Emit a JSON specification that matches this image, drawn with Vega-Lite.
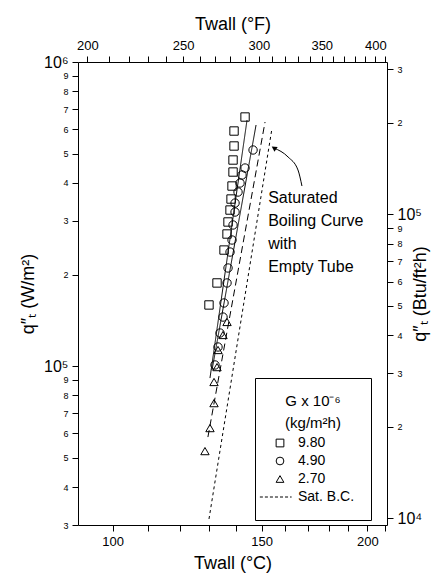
{
  "$schema": "https://vega.github.io/schema/vega-lite/v6.json",
  "width": 309,
  "height": 463,
  "autosize": {"type": "none"},
  "padding": {"left": 78, "top": 62, "right": 61, "bottom": 59},
  "background": "white",
  "config": {
    "font": "Liberation Sans",
    "view": {"stroke": null},
    "axis": {
      "grid": false,
      "domainColor": "black",
      "tickColor": "black",
      "labelColor": "black",
      "titleColor": "black",
      "titleFontWeight": "normal",
      "labelFont": "Liberation Sans",
      "titleFont": "Liberation Sans",
      "labelOverlap": false,
      "labelFlush": false,
      "tickSize": 6
    }
  },
  "datasets": {
    "pts": [
      {"G": "9.80", "T": 143.38, "q": 659200},
      {"G": "9.80", "T": 139.15, "q": 592900},
      {"G": "9.80", "T": 139.15, "q": 529300},
      {"G": "9.80", "T": 138.77, "q": 476000},
      {"G": "9.80", "T": 138.77, "q": 434600},
      {"G": "9.80", "T": 138.39, "q": 390900},
      {"G": "9.80", "T": 138.02, "q": 354200},
      {"G": "9.80", "T": 137.64, "q": 325900},
      {"G": "9.80", "T": 136.89, "q": 297700},
      {"G": "9.80", "T": 136.52, "q": 271800},
      {"G": "9.80", "T": 135.41, "q": 240700},
      {"G": "9.80", "T": 132.85, "q": 187600},
      {"G": "9.80", "T": 129.98, "q": 158800},
      {"G": "4.90", "T": 146.54, "q": 513500},
      {"G": "4.90", "T": 143.38, "q": 448000},
      {"G": "4.90", "T": 142.21, "q": 424900},
      {"G": "4.90", "T": 141.44, "q": 399900},
      {"G": "4.90", "T": 140.67, "q": 373500},
      {"G": "4.90", "T": 139.53, "q": 343600},
      {"G": "4.90", "T": 139.53, "q": 321000},
      {"G": "4.90", "T": 138.77, "q": 291000},
      {"G": "4.90", "T": 138.39, "q": 259700},
      {"G": "4.90", "T": 137.64, "q": 237100},
      {"G": "4.90", "T": 136.89, "q": 210100},
      {"G": "4.90", "T": 136.52, "q": 187600},
      {"G": "4.90", "T": 135.41, "q": 161200},
      {"G": "4.90", "T": 135.04, "q": 144900},
      {"G": "4.90", "T": 133.94, "q": 128400},
      {"G": "4.90", "T": 133.21, "q": 115500},
      {"G": "4.90", "T": 132.13, "q": 100800},
      {"G": "2.70", "T": 136.52, "q": 139600},
      {"G": "2.70", "T": 135.04, "q": 126500},
      {"G": "2.70", "T": 133.21, "q": 112900},
      {"G": "2.70", "T": 132.85, "q": 99200},
      {"G": "2.70", "T": 131.77, "q": 88600},
      {"G": "2.70", "T": 131.77, "q": 75500},
      {"G": "2.70", "T": 130.33, "q": 62500},
      {"G": "2.70", "T": 128.56, "q": 52500}
    ],
    "lines": [
      {"line": "A", "T": 144.16, "q": 644400},
      {"line": "A", "T": 130.33, "q": 91300},
      {"line": "B", "T": 147.74, "q": 620500},
      {"line": "B", "T": 131.05, "q": 97000},
      {"line": "C", "T": 151.4, "q": 634700},
      {"line": "C", "T": 129.6, "q": 58400},
      {"line": "D", "T": 154.31, "q": 606500},
      {"line": "D", "T": 129.98, "q": 31400}
    ],
    "arrow": [
      {"T": 167.4, "q": 390900},
      {"T": 165.6, "q": 441400},
      {"T": 161.2, "q": 487000},
      {"T": 155.1, "q": 521400}
    ],
    "head": [
      {"T": 155.1, "q": 521400}
    ],
    "note": [
      {"T": 152.7, "q": 379300, "label": "Saturated\nBoiling Curve\nwith\nEmpty Tube"}
    ]
  },
  "layer": [
    {
      "data": {"name": "pts"},
      "mark": {"type": "point", "filled": false, "color": "black", "strokeWidth": 1, "size": 70, "opacity": 1},
      "encoding": {
        "x": {
          "field": "T", "type": "quantitative",
          "scale": {"type": "log", "domain": [91, 211], "nice": false},
          "axis": {
            "orient": "bottom",
            "title": "Twall (°C)",
            "values": [100, 110, 120, 130, 140, 150, 160, 170, 180, 190, 200, 210],
            "labelExpr": "datum.value % 50 == 0 ? format(datum.value, 'd') : ''",
            "labelFontSize": 13,
            "labelPadding": 4,
            "titleFontSize": 18,
            "titlePadding": 6
          }
        },
        "y": {
          "field": "q", "type": "quantitative",
          "scale": {"type": "log", "domain": [30000, 1000000], "nice": false},
          "axis": {
            "orient": "left",
            "title": "q″ₜ (W/m²)",
            "values": [30000, 40000, 50000, 60000, 70000, 80000, 90000, 100000, 200000, 300000, 400000, 500000, 600000, 700000, 800000, 900000, 1000000],
            "labelExpr": "datum.value == 100000 ? '10⁵' : datum.value == 1000000 ? '10⁶' : datum.value < 100000 ? format(datum.value / 10000, 'd') : format(datum.value / 100000, 'd')",
            "labelFontSize": {"condition": {"test": "datum.value == 100000 || datum.value == 1000000", "value": 16}, "value": 9},
            "labelPadding": 4,
            "titleFontSize": 18,
            "titlePadding": 6
          }
        },
        "shape": {
          "field": "G", "type": "nominal",
          "scale": {
            "domain": ["9.80", "4.90", "2.70", "Sat. B.C."],
            "range": ["square", "circle", "triangle-up", "M-5.2,0H-4.42M-3.9,0H-3.12M-2.6,0H-1.82M-1.3,0H-0.52M0,0H0.78M1.3,0H2.08M2.6,0H3"]
          },
          "legend": {
            "title": ["G x 10⁻⁶", "(kg/m²h)"],
            "orient": "none",
            "legendX": 177,
            "legendY": 316,
            "titleFontSize": 15,
            "titleFontWeight": "normal",
            "titleColor": "black",
            "titleAnchor": "middle",
            "titleAlign": "center",
            "titleLineHeight": 22,
            "titlePadding": 5,
            "labelFontSize": 14,
            "labelColor": "black",
            "labelOffset": 11,
            "symbolSize": 60,
            "symbolStrokeWidth": 1,
            "symbolStrokeColor": "black",
            "symbolFillColor": "transparent",
            "symbolOffset": 2,
            "rowPadding": 4,
            "padding": 16,
            "strokeColor": "black",
            "fillColor": "white"
          }
        }
      }
    },
    {
      "data": {"name": "lines"},
      "mark": {"type": "line", "color": "black", "strokeWidth": 1},
      "encoding": {
        "x": {
          "field": "T", "type": "quantitative",
          "axis": {
            "orient": "top",
            "title": "Twall (°F)",
            "values": [93.333, 98.889, 104.444, 110, 115.556, 121.111, 126.667, 132.222, 137.778, 143.333, 148.889, 154.444, 160, 165.556, 171.111, 176.667, 182.222, 187.778, 193.333, 198.889, 204.444, 210],
            "labelExpr": "round(datum.value * 1.8 + 32) % 50 == 0 ? format(round(datum.value * 1.8 + 32), 'd') : ''",
            "labelFontSize": 13,
            "labelPadding": 4,
            "titleFontSize": 18,
            "titlePadding": 6
          }
        },
        "y": {
          "field": "q", "type": "quantitative",
          "axis": {
            "orient": "right",
            "title": "q″ₜ (Btu/ft²h)",
            "titleAngle": 270,
            "values": [31545.91, 63091.82, 94637.73, 126183.6, 157729.6, 189275.5, 220821.4, 252367.3, 283913.2, 315459.1, 630918.2, 946377.3],
            "labelExpr": "round(datum.value / 3154.591) == 10 ? '10⁴' : round(datum.value / 3154.591) == 100 ? '10⁵' : round(datum.value / 3154.591) < 100 ? format(round(datum.value / 3154.591) / 10, 'd') : format(round(datum.value / 3154.591) / 100, 'd')",
            "labelFontSize": {"condition": {"test": "round(datum.value / 3154.591) == 10 || round(datum.value / 3154.591) == 100", "value": 16}, "value": 9},
            "labelPadding": 4,
            "titleFontSize": 18,
            "titlePadding": 8
          }
        },
        "detail": {"field": "line", "type": "nominal"},
        "strokeDash": {
          "field": "line", "type": "nominal",
          "scale": {"domain": ["A", "B", "C", "D"], "range": [[1, 0], [1, 0], [7, 4], [3, 3]]},
          "legend": null
        }
      }
    },
    {
      "data": {"name": "arrow"},
      "mark": {"type": "line", "color": "black", "strokeWidth": 1, "interpolate": "monotone"},
      "encoding": {
        "x": {"field": "T", "type": "quantitative", "axis": null},
        "y": {"field": "q", "type": "quantitative", "axis": null}
      }
    },
    {
      "data": {"name": "head"},
      "mark": {"type": "point", "shape": "triangle-up", "filled": true, "color": "black", "size": 35, "angle": 303, "opacity": 1},
      "encoding": {
        "x": {"field": "T", "type": "quantitative", "axis": null},
        "y": {"field": "q", "type": "quantitative", "axis": null}
      }
    },
    {
      "data": {"name": "note"},
      "mark": {"type": "text", "align": "left", "baseline": "top", "fontSize": 16, "lineBreak": "\n", "lineHeight": 23, "color": "black", "font": "Liberation Sans"},
      "encoding": {
        "x": {"field": "T", "type": "quantitative", "axis": null},
        "y": {"field": "q", "type": "quantitative", "axis": null},
        "text": {"field": "label"}
      }
    }
  ],
  "resolve": {
    "axis": {"x": "independent", "y": "independent"}
  }
}
